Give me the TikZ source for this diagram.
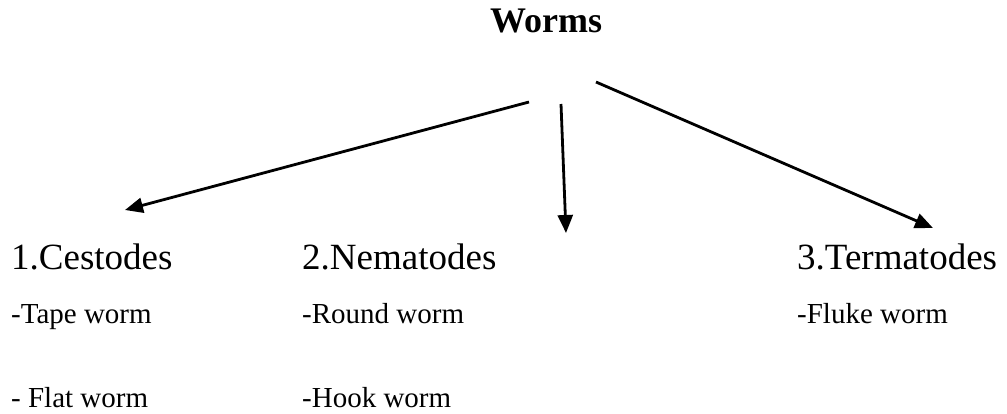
\documentclass[tikz,border=0pt]{standalone}
\usepackage{fontspec}
\setmainfont{Liberation Serif}
\usetikzlibrary{arrows.meta}

\begin{document}
\begin{tikzpicture}[
        x=1pt, y=-1pt,
        >={Triangle[length=18pt,width=15pt]},
        title/.style={anchor=base west, inner sep=0pt, font=\fontsize{36}{40}\selectfont\bfseries},
        group/.style={anchor=base west, inner sep=0pt, font=\fontsize{37}{41}\selectfont},
        member/.style={anchor=base west, inner sep=0pt, font=\fontsize{29}{33}\selectfont},
        link/.style={->, line width=2.8pt}
    ]
        \useasboundingbox (0,0) rectangle (1007,413);
        \node[title] (worms) at (490,32) {Worms};
        \node[group] (cestodes) at (11,269) {1.Cestodes};
        \node[group] (nematodes) at (302,269) {2.Nematodes};
        \node[group] (termatodes) at (797,269) {3.Termatodes};
        \node[member] (tape) at (11,323) {-Tape worm};
        \node[member] (flat) at (11,407) {- Flat worm};
        \node[member] (round) at (302,323) {-Round worm};
        \node[member] (hook) at (302,407) {-Hook worm};
        \node[member] (fluke) at (797,323) {-Fluke worm};
        % free ends of the arrows
        \coordinate (fromleft) at (529,102);
        \coordinate (frommid) at (561,104);
        \coordinate (fromright) at (596,82);
        \coordinate (toleft) at (125,210);
        \coordinate (tomid) at (566,233);
        \coordinate (toright) at (933,228);
        \draw[link] (fromleft) -- (toleft);
        \draw[link] (frommid) -- (tomid);
        \draw[link] (fromright) -- (toright);
    \end{tikzpicture}
\end{document}
